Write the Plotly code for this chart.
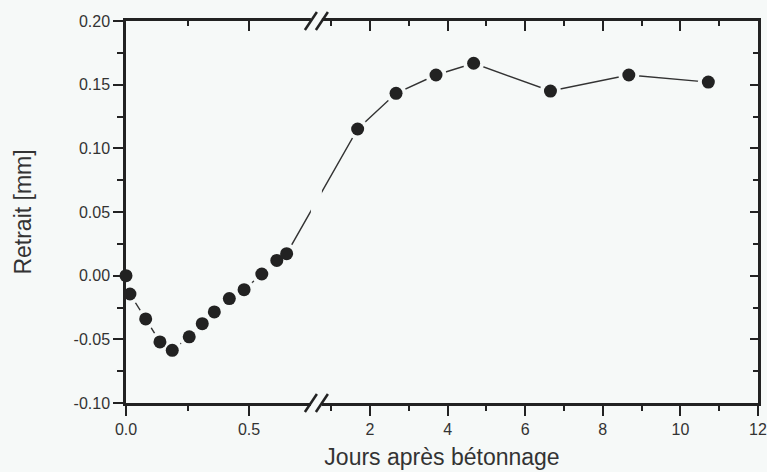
import plotly.graph_objects as go

# ---------------- data ----------------
days = [0.0, 0.016, 0.08, 0.138, 0.188, 0.257, 0.31, 0.359, 0.42, 0.48,
        0.552, 0.613, 0.653, 1.68, 2.67, 3.70, 4.67, 6.65, 8.67, 10.72]
retrait = [0.0, -0.0144, -0.034, -0.052, -0.0586, -0.048, -0.0377, -0.0285,
           -0.018, -0.011, 0.0013, 0.012, 0.0173, 0.1152, 0.1432, 0.1576,
           0.1668, 0.145, 0.1576, 0.152]

x_major = [0.0, 0.5, 2, 4, 6, 8, 10, 12]
x_major_labels = ["0.0", "0.5", "2", "4", "6", "8", "10", "12"]
x_minor = [0.25, 1, 3, 5, 7, 9, 11]

y_major = [-0.10, -0.05, 0.0, 0.05, 0.10, 0.15, 0.20]
y_major_labels = ["-0.10", "-0.05", "0.00", "0.05", "0.10", "0.15", "0.20"]
y_minor = [-0.075, -0.025, 0.025, 0.075, 0.125, 0.175]

x_title = "Jours après bétonnage"
y_title = "Retrait [mm]"

# ---------------- broken-axis transform ----------------
LEFT_END = 0.776      # last day value shown on the left (linear) segment
RIGHT_START = 0.63    # day value at the break on the right segment
RIGHT_SCALE = 0.1577  # compression of the right segment
X_MAX = 12


def brk(x):
    if x <= LEFT_END:
        return x
    return LEFT_END + (x - RIGHT_START) * RIGHT_SCALE


u_days = [brk(d) for d in days]
U_MAX = brk(X_MAX)

BG = "#f6f9f8"
INK = "#222222"
TXT = "#333333"
FONT = "Liberation Sans, Arial, sans-serif"

fig = go.Figure()
fig.add_trace(go.Scatter(x=u_days, y=retrait, mode="lines",
                         line=dict(color="#333333", width=1.4),
                         hoverinfo="skip", showlegend=False))
fig.add_trace(go.Scatter(x=u_days, y=retrait, mode="markers",
                         marker=dict(size=21, color=BG),
                         hoverinfo="skip", showlegend=False))
fig.add_trace(go.Scatter(x=u_days, y=retrait, mode="markers",
                         marker=dict(size=13, color=INK),
                         cliponaxis=False, showlegend=False))
# invisible trace so the mirrored axes are drawn
fig.add_trace(go.Scatter(x=u_days, y=retrait, mode="markers", xaxis="x2", yaxis="y2",
                         marker=dict(size=1, opacity=0), hoverinfo="skip", showlegend=False))

common = dict(showgrid=False, zeroline=False, showline=True, linewidth=2.5,
              linecolor=INK, tickcolor=INK, tickwidth=2, automargin=False)

u_major = [brk(v) for v in x_major]
u_minor = [brk(v) for v in x_minor]

fig.update_layout(
    width=767, height=472,
    margin=dict(l=126, r=9, t=21, b=69, autoexpand=False),
    paper_bgcolor=BG, plot_bgcolor=BG,
    font=dict(family=FONT, size=16, color=TXT),
    xaxis=dict(range=[0, U_MAX], ticks="outside", ticklen=10,
               tickmode="array", tickvals=u_major, ticktext=x_major_labels,
               tickfont=dict(family=FONT, size=16, color=TXT),
               minor=dict(tickmode="array", tickvals=u_minor, ticks="outside",
                          ticklen=5, tickwidth=2, tickcolor=INK),
               title=dict(text=x_title, font=dict(family=FONT, size=23, color=TXT), standoff=12),
               **common),
    xaxis2=dict(range=[0, U_MAX], overlaying="x", side="top", anchor="y",
                ticks="inside", ticklen=10, showticklabels=False,
                tickmode="array", tickvals=u_major,
                minor=dict(tickmode="array", tickvals=u_minor, ticks="inside",
                           ticklen=5, tickwidth=2, tickcolor=INK),
                **common),
    yaxis=dict(range=[-0.10, 0.20], ticks="outside", ticklen=10,
               tickmode="array", tickvals=y_major, ticktext=y_major_labels,
               tickfont=dict(family=FONT, size=16, color=TXT),
               minor=dict(tickmode="array", tickvals=y_minor, ticks="outside",
                          ticklen=6, tickwidth=2, tickcolor=INK),
               title=dict(text=y_title, font=dict(family=FONT, size=23, color=TXT), standoff=36),
               **common),
    yaxis2=dict(range=[-0.10, 0.20], overlaying="y", side="right", anchor="x",
                ticks="inside", ticklen=8, showticklabels=False,
                tickmode="array", tickvals=y_major,
                minor=dict(tickmode="array", tickvals=y_minor, ticks="inside",
                           ticklen=5, tickwidth=2, tickcolor=INK),
                **common),
)

ub = brk(LEFT_END)
# gap through the axes and data line at the break
fig.add_shape(type="rect", xref="x", yref="paper", xsizemode="pixel", xanchor=ub,
              x0=-6, x1=5, y0=-0.012, y1=1.012, fillcolor=BG, line=dict(width=0),
              layer="above")
# "//" break marks top and bottom
for ya in (0, 1):
    for dx in (-12, -1):
        fig.add_shape(type="line", xref="x", yref="paper",
                      xsizemode="pixel", xanchor=ub, x0=dx, x1=dx + 12,
                      ysizemode="pixel", yanchor=ya, y0=-9, y1=9,
                      line=dict(color=INK, width=2.5), layer="above")

fig.write_html("out.html")
